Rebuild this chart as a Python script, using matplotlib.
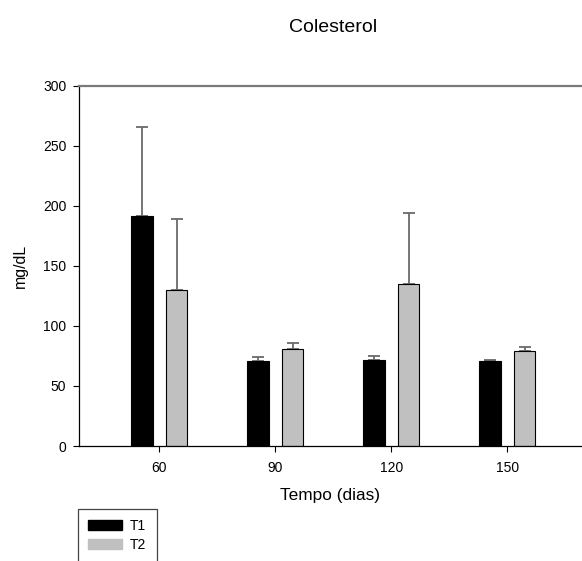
import numpy as np
import matplotlib
matplotlib.use("Agg")
import matplotlib.pyplot as plt
from matplotlib.patches import Patch, Rectangle

plt.rcParams['font.family'] = ['Liberation Sans', 'DejaVu Sans']

# data
dias = ['60', '90', '120', '150']
t1 = [191.7, 70.8, 71.9, 70.8]
t1_err = [74.1, 3.1, 2.8, 0.9]
t2 = [130.3, 81.1, 135.0, 78.9]
t2_err = [58.6, 4.7, 58.6, 3.9]

W, H = 582, 561
fig = plt.figure(figsize=(W / 100, H / 100), dpi=100)
ax = fig.add_axes([78.7 / W, 1 - 446 / H, 1 - 78.7 / W, (446 - 85.7) / H])

x = np.arange(len(dias))
bw = 0.185
off = 0.15

ax.errorbar(x - off, t1, yerr=[np.zeros(4), t1_err], fmt='none', ecolor='#6a6a6a',
            elinewidth=1.3, capsize=4, capthick=1.3, zorder=1)
ax.errorbar(x + off, t2, yerr=[np.zeros(4), t2_err], fmt='none', ecolor='#6a6a6a',
            elinewidth=1.3, capsize=4, capthick=1.3, zorder=1)
ax.bar(x - off, t1, bw, color='black', edgecolor='black', linewidth=0.8, zorder=2)
ax.bar(x + off, t2, bw, color='#c0c0c0', edgecolor='black', linewidth=0.8, zorder=2)

ax.set_xlim(-0.695, 3.644)
ax.set_ylim(0, 300)
ax.set_xticks(x)
ax.set_xticklabels(dias)
ax.set_yticks(np.arange(0, 301, 50))
ax.tick_params(axis='y', direction='out', length=4, width=0.8, pad=5, labelsize=10)
ax.tick_params(axis='x', direction='out', length=4, width=0.8, pad=7, labelsize=10)

ax.spines['top'].set_color('#7a7a7a')
ax.spines['top'].set_linewidth(1.6)
ax.spines['right'].set_visible(False)
ax.spines['left'].set_linewidth(0.9)
ax.spines['bottom'].set_linewidth(0.9)

ax.set_xlabel('Tempo (dias)', fontsize=12.4, labelpad=9)
ax.set_ylabel('mg/dL', fontsize=11.4, labelpad=10.5)
fig.text(333 / W, 1 - 32 / H, 'Colesterol', ha='center', va='baseline', fontsize=14)

# legend box runs off the bottom edge, as in the original
fig.patches.append(Rectangle((78 / W, -0.05), 79.3 / W, 0.05 + 1 - 509.3 / H,
                             transform=fig.transFigure, facecolor='white',
                             edgecolor='#444444', linewidth=0.9, zorder=3))
handles = [Patch(facecolor='black', edgecolor='black'),
           Patch(facecolor='#c0c0c0', edgecolor='#c0c0c0')]
leg = fig.legend(handles, ['T1', 'T2'], loc='upper left',
                 bbox_to_anchor=(87.7 / W, 1 - 519 / H), frameon=False,
                 fontsize=10, handlelength=2.45, handleheight=0.72,
                 handletextpad=0.6, labelspacing=0.35, borderpad=0,
                 borderaxespad=0)
leg.set_zorder(4)

fig.savefig('out.png', dpi=100)
